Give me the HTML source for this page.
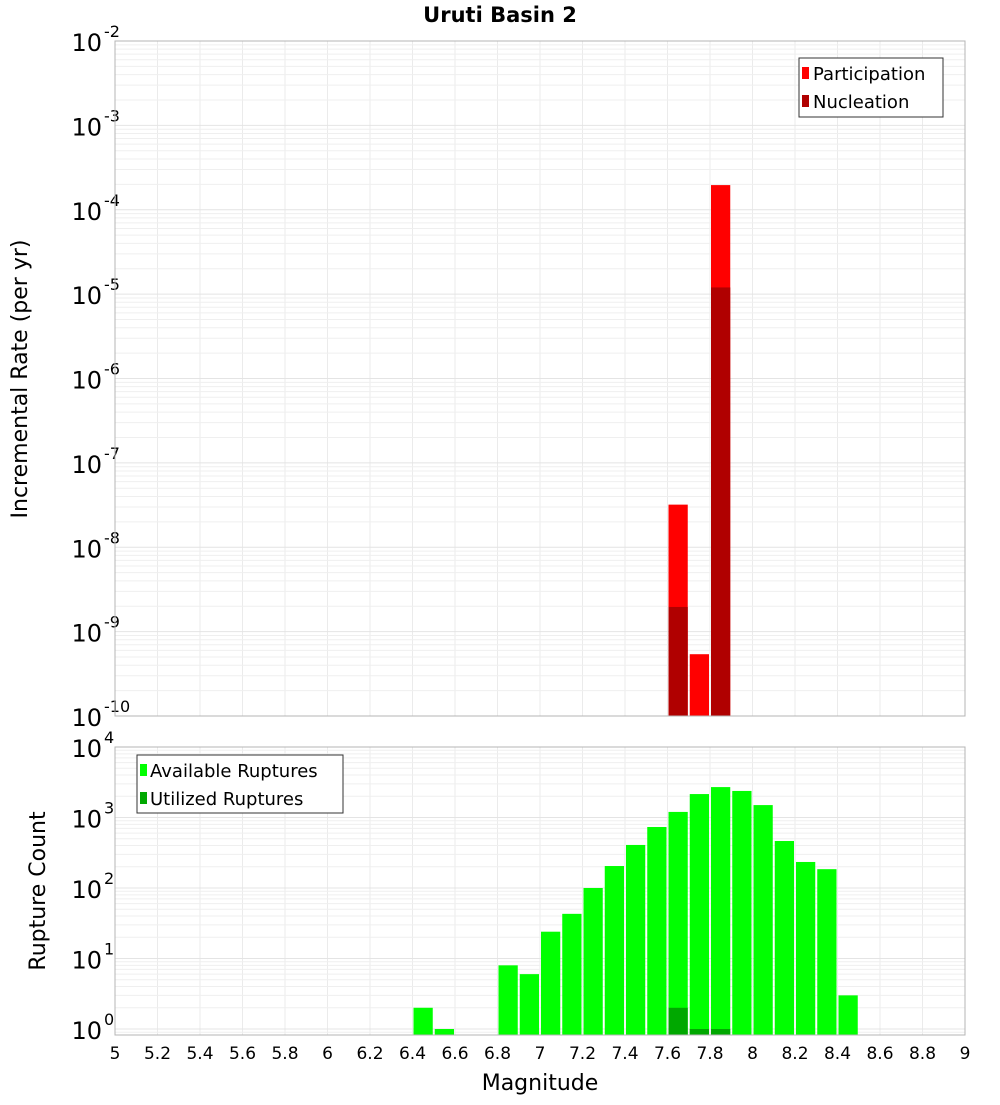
<!DOCTYPE html>
<html><head><meta charset="utf-8"><style>
body{margin:0;background:#fff;}
svg text{font-family:"DejaVu Sans","Liberation Sans",sans-serif;}
</style></head><body>
<svg id="chart" width="1000" height="1100" xmlns="http://www.w3.org/2000/svg">
<text x="500" y="22" text-anchor="middle" font-size="21" font-weight="bold">Uruti Basin 2</text>
<g id="grid"></g>
<g id="bars"></g>
<g id="axes"></g>
<rect x="115" y="41" width="850" height="675" fill="none" stroke="#b4b4b4" stroke-width="1"/>
<rect x="115" y="747" width="850" height="288" fill="none" stroke="#b4b4b4" stroke-width="1"/>
<text transform="translate(27,379) rotate(-90)" text-anchor="middle" font-size="22">Incremental Rate (per yr)</text>
<text transform="translate(45,891) rotate(-90)" text-anchor="middle" font-size="22">Rupture Count</text>
<text x="540" y="1090" text-anchor="middle" font-size="22">Magnitude</text>
<g>
<rect x="799" y="58" width="144" height="59" fill="#fff" stroke="#333"/>
<rect x="802" y="67" width="7" height="12" fill="#ff0000"/>
<text x="813" y="80" font-size="18">Participation</text>
<rect x="802" y="95" width="7" height="12" fill="#b00000"/>
<text x="813" y="108" font-size="18">Nucleation</text>
</g>
<g>
<rect x="137" y="755" width="206" height="58" fill="#fff" stroke="#333"/>
<rect x="140" y="764" width="7" height="12" fill="#00ff00"/>
<text x="150" y="777" font-size="18">Available Ruptures</text>
<rect x="140" y="792" width="7" height="12" fill="#00a800"/>
<text x="150" y="805" font-size="18">Utilized Ruptures</text>
</g>
</svg>
<script>
const mags = [6.45,6.55,6.85,6.95,7.05,7.15,7.25,7.35,7.45,7.55,7.65,7.75,7.85,7.95,8.05,8.15,8.25,8.35,8.45];
const available = [2,1,8,6,24,43,100,205,408,733,1200,2150,2700,2380,1500,464,234,185,3];
const utilizedMags = [7.65,7.75,7.85];
const utilized = [2,1,1];
const rateMags = [7.65,7.75,7.85];
const participation = [3.2e-8,5.4e-10,1.96e-4];
const nucleation = [1.96e-9,0,1.2e-5];
const xTicks = [5,5.2,5.4,5.6,5.8,6,6.2,6.4,6.6,6.8,7,7.2,7.4,7.6,7.8,8,8.2,8.4,8.6,8.8,9];
const topExps = [-2,-3,-4,-5,-6,-7,-8,-9,-10];
const botExps = [4,3,2,1,0];

const NS="http://www.w3.org/2000/svg";
const xS = m => 115 + (m-5)*212.5;
const yTop = v => 41 + (-2 - Math.log10(v))*84.375;
const yBot = v => 747 + (4 - Math.log10(v))*70.5;
const TOPB=716, BOTB=1035, BW=0.1;
function mk(p,tag,at){const e=document.createElementNS(NS,tag);for(const k in at)e.setAttribute(k,at[k]);p.appendChild(e);return e;}
const grid=document.getElementById('grid'), bars=document.getElementById('bars'), axes=document.getElementById('axes');

// grid verticals
xTicks.forEach(t=>{
  const x=xS(t);
  [[41,716],[747,1035]].forEach(r=>{
    const l=mk(grid,'line',{x1:x,x2:x,y1:r[0],y2:r[1],stroke:'#ebebeb'});
    
    
  });
  const tx=mk(axes,'text',{x:x,y:1059,'text-anchor':'middle','font-size':'17'});
  tx.textContent=String(t);
  
  
});
// top horizontal grid
for(let e=-10;e<-2;e++){for(let k=1;k<10;k++){const y=yTop(k*Math.pow(10,e));
  const l=mk(grid,'line',{x1:115,x2:965,y1:y,y2:y,stroke:k==1?'#e4e4e4':'#efefef'});
  
  }}
for(let e=-1;e<4;e++){for(let k=1;k<10;k++){const y=yBot(k*Math.pow(10,e));if(y>1035||y<747)continue;
  const l=mk(grid,'line',{x1:115,x2:965,y1:y,y2:y,stroke:k==1?'#e4e4e4':'#efefef'});
  
  }}
function ylabel(y,e,name){
  const g=mk(axes,'text',{x:102,y:y+10,'text-anchor':'end','font-size':'24'});
  
  
  g.textContent='10';
  const s=mk(axes,'text',{x:104,y:y-4,'font-size':'16'});
  
  
  s.textContent=String(e);
}
topExps.forEach(e=>ylabel(yTop(Math.pow(10,e)),e,'top-y-tick-label'));
botExps.forEach(e=>ylabel(yBot(Math.pow(10,e)),e,'bottom-y-tick-label'));
function bar(m,v,yf,base,fill,name){
  if(!(v>0))return;
  const x=xS(m-BW/2)+1, w=xS(m+BW/2)-xS(m-BW/2)-2, y=yf(v);
  const r=mk(bars,'rect',{x:x,y:y,width:w,height:base-y,fill:fill});
  
  
}
rateMags.forEach((m,i)=>bar(m,participation[i],yTop,TOPB,'#ff0000','participation-bar'));
rateMags.forEach((m,i)=>bar(m,nucleation[i],yTop,TOPB,'#b00000','nucleation-bar'));
mags.forEach((m,i)=>bar(m,available[i],yBot,BOTB,'#00ff00','available-ruptures-bar'));
utilizedMags.forEach((m,i)=>bar(m,utilized[i],yBot,BOTB,'#00a800','utilized-ruptures-bar'));
</script>
</body></html>
